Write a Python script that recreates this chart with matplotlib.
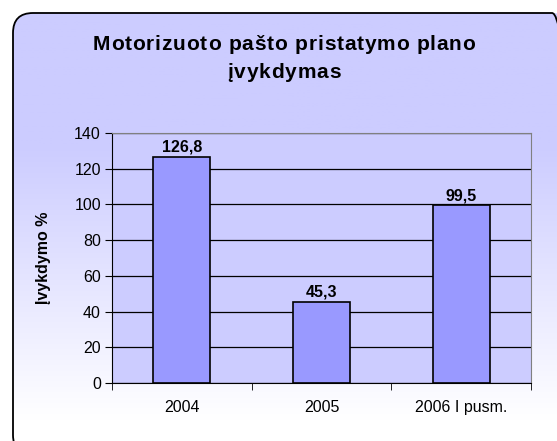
import numpy as np
import matplotlib.pyplot as plt
from matplotlib.patches import FancyBboxPatch

plt.rcParams['font.family'] = ['Liberation Sans', 'DejaVu Sans']

categories = ['2004', '2005', '2006 I pusm.']
values = [126.8, 45.3, 99.5]
value_labels = ['126,8', '45,3', '99,5']
yticks = [0, 20, 40, 60, 80, 100, 120, 140]
title_lines = ['Motorizuoto pašto pristatymo plano', 'įvykdymas']

W, H = 557, 441
fig = plt.figure(figsize=(W / 100, H / 100), dpi=100)
fig.patch.set_facecolor('white')

# rounded frame (pixel coords, y up) with gradient fill, lavender -> white
fx0, fx1, fy_top, fy_bot, rad = 13, 572, 13, 455, 20
box = FancyBboxPatch((fx0 + rad, H - fy_bot + rad), fx1 - fx0 - 2 * rad, fy_bot - fy_top - 2 * rad,
                     boxstyle='round,pad=%d' % rad, facecolor='none',
                     edgecolor='black', linewidth=1.3, transform=None, zorder=3)
fig.patches.append(box)

bg = fig.add_axes([0, 0, 1, 1], zorder=-1)
grad = np.linspace(0, 1, 256).reshape(-1, 1)
c0 = np.array([0.80, 0.80, 1.0])
c1 = np.array([1.0, 1.0, 1.0])
t = np.clip((grad - 0.3) / 0.62, 0, 1)
img = c0 * (1 - t)[..., None] + c1 * t[..., None]
im = bg.imshow(img, extent=[fx0, fx1, fy_bot, fy_top], aspect='auto', zorder=1)
im.set_clip_path(box)
bg.set_xlim(0, W)
bg.set_ylim(H, 0)
bg.axis('off')


def spaced_text(s, xc, yc, extra, **kw):
    # draw text with extra letter spacing (pixels), centred at xc (pixels)
    r = fig.canvas.get_renderer()
    def w(sub):
        if not sub:
            return 0.0
        tt = fig.text(0, 0, sub, **kw)
        ww = tt.get_window_extent(r).width
        tt.remove()
        return ww
    total = w(s) + extra * (len(s) - 1)
    x0 = xc - total / 2
    for i, ch in enumerate(s):
        if ch == ' ':
            continue
        xp = x0 + w(s[:i]) + extra * i
        fig.text(xp / W, 1 - yc / H, ch, ha='left', va='center', **kw)


spaced_text(title_lines[0], 284, 45, 0.8, fontsize=15, fontweight='bold')
spaced_text(title_lines[1], 284, 72, 0.8, fontsize=15, fontweight='bold')

ax = fig.add_axes([112 / W, 1 - 383 / H, 419 / W, 250 / H])
ax.set_facecolor('#CCCCFF')
x = np.arange(len(categories))
ax.bar(x, values, width=0.41, color='#9999FF', edgecolor='black', linewidth=1.2, zorder=3)
for xi, v, lab in zip(x, values, value_labels):
    ax.text(xi, v + 1.2, lab, ha='center', va='bottom', fontsize=11.5, fontweight='bold')

ax.set_xlim(-0.5, 2.5)
ax.set_ylim(0, 140)
ax.set_yticks(yticks)
ax.yaxis.grid(True, color='black', linewidth=0.9)
ax.set_axisbelow(True)
ax.set_xticks(x)
ax.set_xticklabels(categories, fontsize=11.5)
ax.tick_params(axis='x', length=0, pad=12)
ax.set_xticks([-0.5, 0.5, 1.5, 2.5], minor=True)
ax.tick_params(axis='x', which='minor', length=5, direction='out', color='black')
ax.tick_params(axis='y', length=5, direction='out', labelsize=11.5, pad=3)
for s in ['top', 'right']:
    ax.spines[s].set_color('#808080')
ax.spines['left'].set_color('black')
ax.spines['bottom'].set_color('black')
ax.set_ylabel('Įvykdymo %', fontsize=11.5, fontweight='bold', labelpad=17)

fig.savefig('out.png', dpi=100)
